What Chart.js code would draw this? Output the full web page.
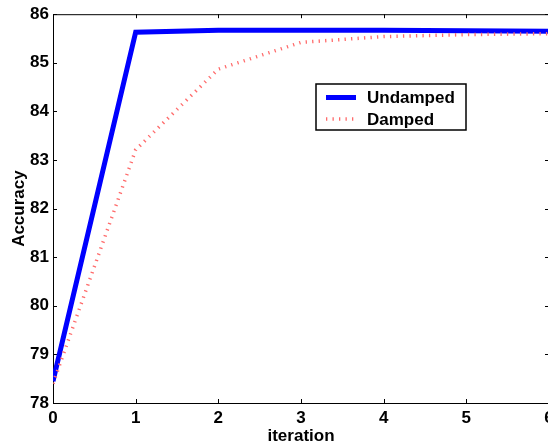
<!DOCTYPE html>
<html>
<head>
<meta charset="utf-8">
<script src="https://cdn.jsdelivr.net/npm/chart.js@4/dist/chart.umd.min.js"></script>
<style>
  html, body { margin: 0; padding: 0; overflow: hidden; background: #fff; }
  #wrap { position: relative; width: 560px; height: 447px; }
</style>
</head>
<body>
<div id="wrap"><canvas id="c"></canvas></div>
<script>
const iterations = [0, 1, 2, 3, 4, 5, 6];
const undamped = [78.45, 85.63, 85.67, 85.67, 85.67, 85.66, 85.65];
const damped = [78.40, 83.21, 84.87, 85.42, 85.54, 85.58, 85.60];
const seriesNames = ['Undamped', 'Damped'];
const yTicks = [78, 79, 80, 81, 82, 83, 84, 85, 86];
const xTicks = [0, 1, 2, 3, 4, 5, 6];

const FONT = '"Liberation Sans", Arial, Helvetica, sans-serif';

const framePlugin = {
  id: 'frame',
  beforeDatasetsDraw(chart) {
    const { ctx, chartArea: a, scales: { x, y } } = chart;
    const tl = 4;
    ctx.save();
    ctx.strokeStyle = '#000';
    ctx.lineWidth = 1;
    ctx.beginPath();
    ctx.moveTo(a.left, a.top + 0.5); ctx.lineTo(a.right, a.top + 0.5);
    ctx.moveTo(a.right - 0.5, a.top); ctx.lineTo(a.right - 0.5, a.bottom);
    xTicks.forEach(v => {
      const px = Math.round(x.getPixelForValue(v)) + 0.5;
      ctx.moveTo(px, a.bottom); ctx.lineTo(px, a.bottom - tl);
      ctx.moveTo(px, a.top); ctx.lineTo(px, a.top + tl);
    });
    yTicks.forEach(v => {
      const py = Math.round(y.getPixelForValue(v)) + 0.5;
      ctx.moveTo(a.left, py); ctx.lineTo(a.left + tl, py);
      ctx.moveTo(a.right, py); ctx.lineTo(a.right - tl, py);
    });
    ctx.stroke();
    ctx.restore();
  }
};

const legendPlugin = {
  id: 'boxLegend',
  afterDraw(chart, args, opts) {
    const { ctx } = chart;
    const bx = opts.x, by = opts.y, bw = opts.w, bh = opts.h;
    ctx.save();
    ctx.fillStyle = '#fff';
    ctx.fillRect(bx, by, bw, bh);
    ctx.strokeStyle = '#000';
    ctx.lineWidth = 1.5;
    ctx.strokeRect(bx, by, bw, bh);
    ctx.font = 'bold 17px ' + FONT;
    ctx.textBaseline = 'middle';
    ctx.fillStyle = '#000';
    [0, 1].forEach((i, r) => {
      const ds = chart.data.datasets.find(d => d.label === seriesNames[i]);
      const ly = by + 13.5 + r * 21.5;
      ctx.save();
      ctx.strokeStyle = ds.borderColor;
      ctx.lineWidth = ds.borderWidth;
      ctx.setLineDash(ds.borderDash || []);
      ctx.beginPath();
      ctx.moveTo(bx + 10, ly);
      ctx.lineTo(bx + 40, ly);
      ctx.stroke();
      ctx.restore();
      ctx.fillText(ds.label, bx + 51, ly + 1);
    });
    ctx.restore();
  }
};

new Chart(document.getElementById('c'), {
  type: 'line',
  data: {
    datasets: [
      {
        label: seriesNames[0],
        data: iterations.map((v, i) => ({ x: v, y: undamped[i] })),
        borderColor: '#0000ff',
        borderWidth: 5,
        pointRadius: 0,
        tension: 0,
        order: 1
      },
      {
        label: seriesNames[1],
        data: iterations.map((v, i) => ({ x: v, y: damped[i] })),
        borderColor: '#ff6b6b',
        borderWidth: 3.5,
        borderDash: [1.3, 5.2],
        pointRadius: 0,
        tension: 0,
        order: 0
      }
    ]
  },
  options: {
    responsive: true,
    maintainAspectRatio: false,
    animation: false,
    devicePixelRatio: 1,
    layout: { padding: { top: 12, right: 11, left: 0, bottom: 0 } },
    plugins: {
      legend: { display: false },
      tooltip: { enabled: false },
      boxLegend: { x: 316, y: 84, w: 150, h: 46 }
    },
    scales: {
      x: {
        type: 'linear',
        min: 0, max: 6,
        afterBuildTicks: s => { s.ticks = xTicks.map(v => ({ value: v })); },
        afterFit: s => { s.height = 44; },
        grid: { display: false, drawTicks: false, tickLength: 0 },
        border: { display: true, color: '#000', width: 1 },
        ticks: { color: '#000', padding: 5, font: { family: FONT, size: 17, weight: 'bold' } },
        title: { display: true, text: 'iteration', color: '#000', padding: { top: 0, bottom: 0 },
                 font: { family: FONT, size: 17, weight: 'bold' } }
      },
      y: {
        type: 'linear',
        min: 78, max: 86,
        afterBuildTicks: s => { s.ticks = yTicks.map(v => ({ value: v })); },
        afterFit: s => { s.width = 53; },
        grid: { display: false, drawTicks: false, tickLength: 0 },
        border: { display: true, color: '#000', width: 1 },
        ticks: { color: '#000', padding: 4, font: { family: FONT, size: 17, weight: 'bold' } },
        title: { display: true, text: 'Accuracy', color: '#000', padding: { top: 9, bottom: 0 },
                 font: { family: FONT, size: 17, weight: 'bold' } }
      }
    }
  },
  plugins: [framePlugin, legendPlugin]
});
</script>
</body>
</html>
